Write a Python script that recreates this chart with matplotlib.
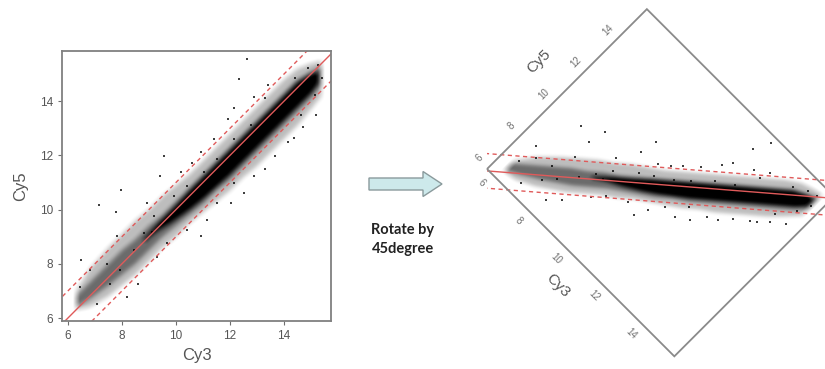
import matplotlib
matplotlib.use('Agg')
import matplotlib.pyplot as plt
import numpy as np
from matplotlib.transforms import Affine2D
from matplotlib.patches import Rectangle, FancyArrow
from matplotlib.path import Path

plt.rcParams['font.family'] = ['Liberation Sans', 'DejaVu Sans']

# === 데이터 ===
ticks = [6, 8, 10, 12, 14]
xlim = (5.78, 15.74)
ylim = (5.89, 15.85)
offsets = [-1, 0, 1]   # y = x + d

# 구름(점 밀집 영역)의 윤곽
cloud_x = [6.3, 6.8, 7.5, 8.0, 8.5, 9.0, 9.5, 10.0, 10.5, 11.0, 11.5, 12.0, 12.5, 13.0, 13.5, 14.0, 14.5, 15.0, 15.4]
outer_hi = [7.0, 7.8, 8.6, 9.1, 9.6, 10.0, 10.5, 10.9, 11.3, 11.8, 12.3, 12.8, 13.3, 13.8, 14.3, 14.8, 15.2, 15.4, 15.5]
outer_lo = [6.3, 6.4, 6.8, 7.2, 7.6, 8.1, 8.6, 9.0, 9.5, 9.9, 10.3, 10.7, 11.2, 11.6, 12.1, 12.6, 13.1, 13.7, 14.2]
core_hi = [6.8, 7.3, 8.0, 8.5, 8.9, 9.4, 9.8, 10.3, 10.8, 11.3, 11.8, 12.3, 12.8, 13.3, 13.8, 14.3, 14.8, 15.1, 15.3]
core_lo = [6.4, 6.7, 7.2, 7.6, 8.0, 8.5, 9.0, 9.4, 9.8, 10.2, 10.7, 11.1, 11.6, 12.1, 12.6, 13.1, 13.6, 14.1, 14.6]
dense_x = [8.8, 9.3, 9.8, 10.5, 11.0, 11.5, 12.0, 12.5, 13.0, 13.5, 14.0, 14.5, 15.0, 15.3]
dense_hi = [8.9, 9.45, 9.95, 10.7, 11.2, 11.7, 12.2, 12.7, 13.2, 13.7, 14.2, 14.7, 15.0, 15.1]
dense_lo = [8.8, 9.2, 9.5, 10.0, 10.4, 10.85, 11.3, 11.8, 12.3, 12.8, 13.3, 13.8, 14.3, 14.7]

# 흩어진 점들 (Cy3, Cy5)
pts_cy3 = [12.62, 12.32, 7.14, 7.95, 7.77, 9.54, 9.42, 6.49, 10.60, 12.90,
           13.28, 13.40, 15.20, 14.36, 14.71, 13.28, 12.53, 9.11, 7.80, 15.39,
           10.91, 10.42, 12.03, 8.61, 8.18, 7.06, 6.44, 6.81, 7.43, 8.43,
           8.80, 9.17, 9.92, 10.42, 11.04, 11.53, 12.16, 12.78, 11.53, 12.16,
           12.90, 13.65, 14.15, 14.64, 15.14, 11.16, 9.67, 9.30, 7.93, 7.55,
           14.02, 14.40, 14.89, 15.27, 12.16, 11.91, 11.41, 10.91, 10.17, 8.92]
pts_cy5 = [15.55, 14.82, 10.16, 10.71, 9.90, 11.99, 11.24, 8.14, 11.71, 14.16,
           14.10, 14.60, 13.50, 12.65, 13.04, 11.49, 10.62, 9.19, 9.01, 14.84,
           9.01, 9.25, 10.25, 7.27, 6.77, 6.52, 7.14, 7.76, 8.01, 8.51,
           9.13, 9.75, 10.50, 10.87, 11.37, 11.86, 12.61, 13.11, 10.25, 10.99,
           11.24, 11.99, 12.48, 13.48, 14.22, 9.63, 8.76, 8.26, 7.76, 7.27,
           13.98, 14.84, 15.22, 15.34, 13.73, 13.35, 12.61, 12.11, 11.37, 10.25]

GRAY = '#6e6e6e'
RED = '#e05a5a'


def band_path(xs, lo, hi):
    px = list(xs) + list(xs)[::-1]
    py = list(lo) + list(hi)[::-1]
    return Path(np.column_stack([px, py]))


# 윤곽을 래스터로 만들어 가장자리를 부드럽게 (점 구름 느낌)
N = 500
gx = np.linspace(xlim[0], xlim[1], N)
gy = np.linspace(ylim[0], ylim[1], N)
GX, GY = np.meshgrid(gx, gy)
grid = np.column_stack([GX.ravel(), GY.ravel()])
dens = np.zeros(N * N)
for xs, lo, hi, w in [(cloud_x, outer_lo, outer_hi, 0.24),
                      (cloud_x, core_lo, core_hi, 0.30),
                      (dense_x, dense_lo, dense_hi, 0.42)]:
    dens += w * band_path(xs, lo, hi).contains_points(grid)
dens = dens.reshape(N, N)
k = np.ones(13) / 13
dens = np.apply_along_axis(lambda v: np.convolve(v, k, mode='same'), 0, dens)
dens = np.apply_along_axis(lambda v: np.convolve(v, k, mode='same'), 1, dens)
rgba = np.zeros((N, N, 4))
rgba[..., 3] = np.clip(dens * 1.08, 0, 1)
extent = (xlim[0], xlim[1], ylim[0], ylim[1])


def draw_cloud(ax, tr, clip=None):
    arts = []
    im = ax.imshow(rgba, extent=extent, origin='lower', interpolation='bilinear',
                   transform=tr, aspect='auto')
    arts.append(im)
    arts.append(ax.scatter(pts_cy3, pts_cy5, s=3, c='black', marker='s',
                           lw=0, alpha=0.75, transform=tr))
    xx = np.array([4.0, 18.0])
    for d in offsets:
        ls = '-' if d == 0 else (0, (3, 2.5))
        arts += ax.plot(xx, xx + d, color=RED, lw=1.0, ls=ls, transform=tr)
    if clip is not None:
        for a in arts:
            a.set_clip_path(clip)


fig = plt.figure(figsize=(8.25, 3.69), dpi=100)

# === 왼쪽: 원래 산점도 ===
ax = fig.add_axes([62 / 825, 1 - 321 / 369, 269 / 825, 270 / 369])
draw_cloud(ax, ax.transData)
ax.set_xlim(*xlim)
ax.set_ylim(*ylim)
ax.set_xticks(ticks)
ax.set_yticks(ticks)
ax.tick_params(colors=GRAY, labelcolor='#555555', labelsize=8.5, length=3, width=0.8)
for s in ax.spines.values():
    s.set_color('#808080')
    s.set_linewidth(1.3)
ax.set_xlabel('Cy3', fontsize=12, color='#555555', labelpad=4)
ax.set_ylabel('Cy5', fontsize=12, color='#555555', labelpad=8)

# === 오버레이 (픽셀 좌표) ===
ov = fig.add_axes([0, 0, 1, 1])
ov.axis('off')

# 화살표 + 설명
ov.add_patch(FancyArrow(369, 184, 73, 0, width=12, head_width=25, head_length=19,
                        length_includes_head=True, fc='#cde9eb', ec='#8a9a9c', lw=1))
ov.text(403, 230, 'Rotate by', fontsize=10.5, fontweight='bold', family=['Lato', 'DejaVu Sans'],
        ha='center', va='center', color='#222222')
ov.text(403, 249, '45degree', fontsize=10.5, fontweight='bold', family=['Lato', 'DejaVu Sans'],
        ha='center', va='center', color='#222222')

# === 오른쪽: 45도 회전 ===
LX, LY = 487, 169      # 왼쪽 꼭짓점 위치
SX, SY = 26.6, 22.7    # 축 단위당 픽셀
r = 1 / np.sqrt(2)
rot = (Affine2D().translate(-xlim[0], -ylim[0]).scale(SX, SY)
       + Affine2D.from_values(r, r, r, -r, LX, LY))
tr = rot + ov.transData

frame = Rectangle((xlim[0], ylim[0]), xlim[1] - xlim[0], ylim[1] - ylim[0],
                  fill=False, ec='#8a8a8a', lw=1.3, transform=tr, zorder=3)
ov.add_patch(frame)
draw_cloud(ov, tr, clip=frame)
ov.set_xlim(0, 825)
ov.set_ylim(369, 0)

# 눈금 라벨 (변 바깥쪽으로 밀어냄)
for t in ticks:
    p = rot.transform([t, ylim[0]])
    ov.text(p[0] - 10, p[1] + 10, str(t), rotation=-45,
            ha='center', va='center', fontsize=7, color=GRAY)
    q = rot.transform([xlim[0], t])
    ov.text(q[0] - 9, q[1] - 9, str(t), rotation=45,
            ha='center', va='center', fontsize=7, color=GRAY)
mx = (xlim[0] + xlim[1]) / 2
my = (ylim[0] + ylim[1]) / 2
p = rot.transform([mx, ylim[0]])
ov.text(p[0] - 32 * r, p[1] + 32 * r, 'Cy3', rotation=-45, ha='center', va='center',
        fontsize=11, color='#555555')
q = rot.transform([xlim[0], my])
ov.text(q[0] - 39 * r, q[1] - 39 * r, 'Cy5', rotation=45, ha='center', va='center',
        fontsize=11, color='#555555')

fig.savefig('out.png', dpi=100)
